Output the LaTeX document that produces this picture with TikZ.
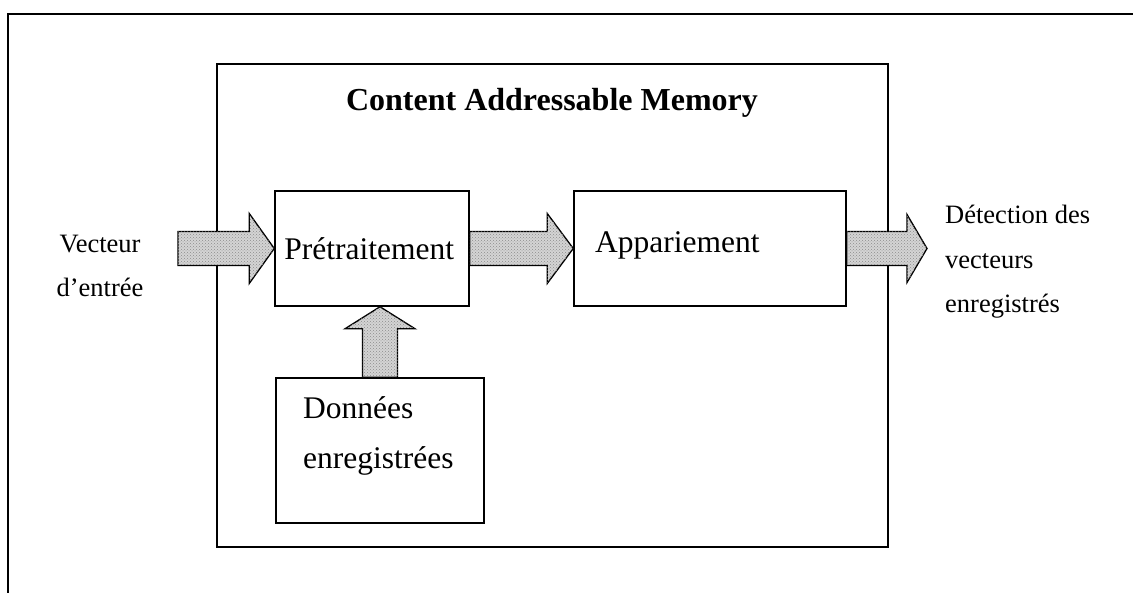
\documentclass[tikz,border=0pt]{standalone}
\usepackage{fontspec}
\setmainfont{Liberation Serif}
\usetikzlibrary{calc,patterns}

% horizontal block arrow: tail point, tip point, head length, head half-width
\newcommand\hblockarrow[4]{%
  \draw[blockarrow] let \p1=(#1), \p2=(#2) in
    (\x2,\y2) -- (\x2-#3pt,\y2+#4pt) -- (\x2-#3pt,\y2+17pt) -- (\x1,\y2+17pt)
    -- (\x1,\y2-17pt) -- (\x2-#3pt,\y2-17pt) -- (\x2-#3pt,\y2-#4pt) -- cycle;}
% upward block arrow: tail point, tip point, head length, head half-width
\newcommand\vblockarrow[4]{%
  \draw[blockarrow] let \p1=(#1), \p2=(#2) in
    (\x2,\y2) -- (\x2+#4pt,\y2-#3pt) -- (\x2+17.5pt,\y2-#3pt) -- (\x2+17.5pt,\y1)
    -- (\x2-17.5pt,\y1) -- (\x2-17.5pt,\y2-#3pt) -- (\x2-#4pt,\y2-#3pt) -- cycle;}

\begin{document}
\begin{tikzpicture}[x=1pt,y=-1pt,
  frame/.style={line width=1.6pt},
  box/.style={draw, line width=1.5pt, inner sep=0pt},
  blockarrow/.style={line width=1.3pt, fill=black!17,
    postaction={pattern=crosshatch dots, pattern color=black!45}},
  bigtext/.style={inner sep=0pt, font=\fontsize{31.5}{50}\selectfont},
  smalltext/.style={inner sep=0pt, font=\fontsize{26.5}{44.5}\selectfont},
  titletext/.style={inner sep=0pt, font=\fontsize{32}{38}\selectfont\bfseries}]
\useasboundingbox (0,0) rectangle (1133,593);

% page frame (top and left sides)
\draw[frame] (8,593) -- (8,14) -- (1133,14);

% boxes
\node[box, minimum width=671, minimum height=483] (cam) at (552.5,305.5) {};
\node[box, minimum width=194, minimum height=115] (pre) at (372,248.5) {};
\node[box, minimum width=272, minimum height=115] (app) at (710,248.5) {};
\node[box, minimum width=208, minimum height=145] (don) at (380,450.5) {};

% texts
\node[titletext] (title) at (552,103) {Content Addressable Memory};
\node[bigtext, anchor=west] (preT) at ([xshift=10]pre.west) {Prétraitement};
\node[bigtext, anchor=west] (appT) at (595,245) {Appariement};
\node[bigtext, anchor=west, align=left] (donT) at (303,436) {Données\\enregistrées};
\node[smalltext, align=center] (vin) at (100,266) {Vecteur\\d’entrée};
\node[smalltext, anchor=west, align=left] (vout) at (945,262) {Détection des\\vecteurs\\enregistrés};

% arrow end points
\coordinate (inTail) at (178,248.5);
\coordinate (outTip) at (927,248.5);
\coordinate (upTip) at (don.north |- pre.south);

% block arrows
\hblockarrow{inTail}{pre.west}{25}{35}
\hblockarrow{pre.east}{app.west}{26}{35}
\hblockarrow{app.east}{outTip}{20}{34}
\vblockarrow{don.north}{upTip}{22}{35}
\end{tikzpicture}
\end{document}
